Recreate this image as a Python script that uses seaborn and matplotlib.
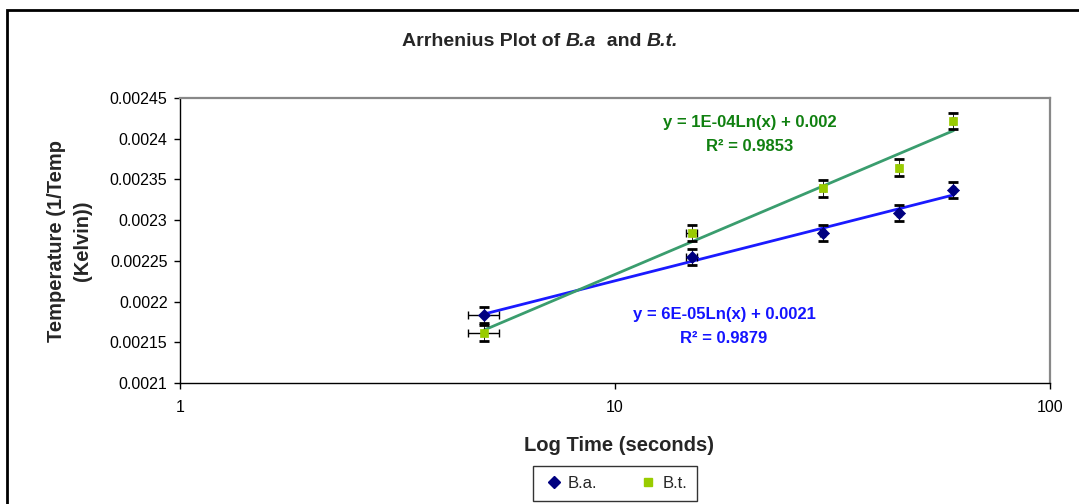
import numpy as np
import pandas as pd
import seaborn as sns
import matplotlib
matplotlib.use("Agg")
import matplotlib.pyplot as plt
from matplotlib.lines import Line2D
from matplotlib.patches import Rectangle

# ---- data ----
time_s = [5, 15, 30, 45, 60]
ba_vals = [0.0021837, 0.002255, 0.0022845, 0.002309, 0.002337]
bt_vals = [0.0021615, 0.0022845, 0.002339, 0.0023645, 0.002422]
y_err = 0.00001
x_err = 0.4
y_ticks = [0.0021, 0.00215, 0.0022, 0.00225, 0.0023, 0.00235, 0.0024, 0.00245]
y_tick_labels = ["0.0021", "0.00215", "0.0022", "0.00225", "0.0023", "0.00235", "0.0024", "0.00245"]
x_ticks = [1, 10, 100]
x_tick_labels = ["1", "10", "100"]
ba_eq = "y = 6E-05Ln(x) + 0.0021\nR\u00b2 = 0.9879"
bt_eq = "y = 1E-04Ln(x) + 0.002\nR\u00b2 = 0.9853"

sns.set_style("white")
plt.rcParams['font.family'] = ['Liberation Sans', 'DejaVu Sans']

BA_MARK = "#000080"
BT_MARK = "#99cc00"
BA_LINE = "#1a1aff"
BT_LINE = "#3a9d6e"
BA_TXT = "#1414ff"
BT_TXT = "#108010"

fig = plt.figure(figsize=(10.79, 5.04), dpi=100)
W, H = 1079, 504
ax = fig.add_axes([180 / W, 1 - 383 / H, (1050 - 180) / W, (383 - 98) / H])

df = pd.DataFrame({"t": time_s * 2, "v": ba_vals + bt_vals,
                   "s": ["B.a."] * 5 + ["B.t."] * 5})

# trendlines (logarithmic fits computed from the data)
xs = np.linspace(min(time_s), max(time_s), 200)
for name, col in [("B.a.", BA_LINE), ("B.t.", BT_LINE)]:
    sub = df[df.s == name]
    a, b = np.polyfit(np.log(sub.t), sub.v, 1)
    sns.lineplot(x=xs, y=a * np.log(xs) + b, ax=ax, color=col, lw=2.0, zorder=2)

# error bars
for vals in (ba_vals, bt_vals):
    ax.errorbar(time_s, vals, yerr=y_err, fmt='none', ecolor='black',
                elinewidth=0.6, capsize=3.4, capthick=2.0, zorder=4)
    ax.errorbar(time_s, vals, xerr=x_err, fmt='none', ecolor='black',
                elinewidth=1.0, capsize=3.0, capthick=1.0, zorder=4)

sns.scatterplot(data=df[df.s == "B.a."], x="t", y="v", marker="D", s=38,
                color=BA_MARK, edgecolor=BA_MARK, ax=ax, zorder=5, legend=False)
sns.scatterplot(data=df[df.s == "B.t."], x="t", y="v", marker="s", s=40,
                color=BT_MARK, edgecolor=BT_MARK, ax=ax, zorder=5, legend=False)

ax.set_xscale("log")
ax.set_xlim(1, 100)
ax.set_ylim(0.0021, 0.00245)
ax.xaxis.set_major_locator(matplotlib.ticker.FixedLocator(x_ticks))
ax.xaxis.set_minor_locator(matplotlib.ticker.NullLocator())
ax.set_xticklabels(x_tick_labels)
ax.set_yticks(y_ticks)
ax.set_yticklabels(y_tick_labels)
ax.tick_params(axis='both', direction='out', length=4, width=1, color='black',
               labelsize=11.5, labelcolor='black', pad=5)
ax.tick_params(axis='x', pad=8)
ax.tick_params(bottom=True, left=True)

for side in ("left", "bottom"):
    ax.spines[side].set_color("black")
    ax.spines[side].set_linewidth(1.0)
for side in ("top", "right"):
    ax.spines[side].set_color("#888888")
    ax.spines[side].set_linewidth(1.6)
ax.grid(False)

ax.set_xlabel("Log Time (seconds)", fontsize=14.5, fontweight='bold')
ax.xaxis.set_label_coords((619 - 180) / 870, (383 - 436) / 285)
ax.set_ylabel("Temperature (1/Temp\n(Kelvin))", fontsize=14.5, fontweight='bold',
              linespacing=1.5)
ax.yaxis.set_label_coords((92 - 180) / 870, 0.5)

# equations
fig.text(750 / W, 1 - 135 / H, bt_eq, color=BT_TXT, fontsize=12, fontweight='bold',
         ha='center', va='center', multialignment='center', linespacing=1.75)
fig.text(724 / W, 1 - 326.5 / H, ba_eq, color=BA_TXT, fontsize=12, fontweight='bold',
         ha='center', va='center', multialignment='center', linespacing=1.75)

# title with italic parts, chained left to right
parts = [("Arrhenius Plot of ", 'normal'), ("B.a", 'italic'), ("  and ", 'normal'),
         ("B.t.", 'italic')]
prev = fig.text(402 / W, 1 - 50 / H, parts[0][0], fontsize=14, fontweight='bold',
                ha='left', va='bottom')
for txt, style in parts[1:]:
    prev = ax.annotate(txt, xy=(1, 0), xycoords=prev, xytext=(0, 0),
                       textcoords='offset points', fontsize=14, fontweight='bold',
                       style=style, ha='left', va='bottom', annotation_clip=False)

# legend
handles = [Line2D([], [], marker='D', color=BA_MARK, linestyle='none', markersize=6),
           Line2D([], [], marker='s', color=BT_MARK, linestyle='none', markersize=6)]
leg = fig.legend(handles, ["B.a.", "B.t."], loc='center', ncol=2,
                 bbox_to_anchor=(615 / W, 1 - 483 / H), frameon=True, fancybox=False,
                 edgecolor='black', fontsize=12, handletextpad=0.2, columnspacing=2.4,
                 borderpad=0.6, handlelength=1.3)
leg.get_frame().set_linewidth(1.0)

# outer chart border
fig.patches.append(Rectangle((7 / W, -0.5), 2, 1.5 - 10 / H, transform=fig.transFigure,
                             fill=False, edgecolor='black', lw=2, figure=fig))

fig.savefig("out.png", dpi=100)
